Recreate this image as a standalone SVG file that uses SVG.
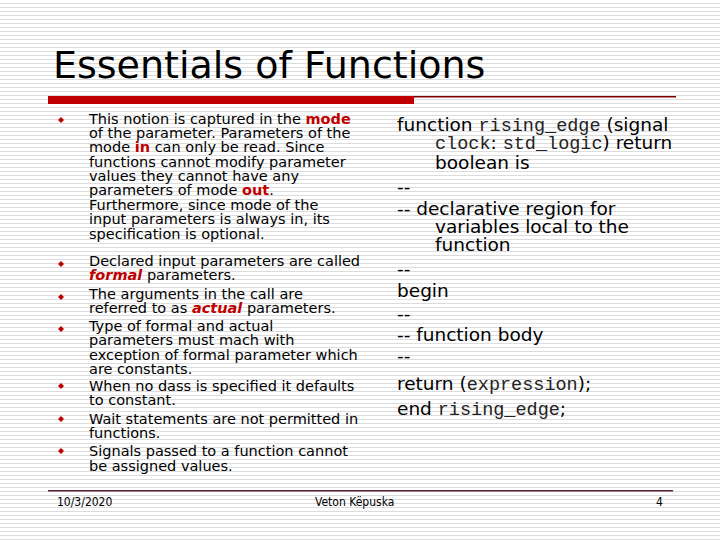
<svg xmlns="http://www.w3.org/2000/svg" width="720" height="540" viewBox="0 0 720 540">
<defs>
<pattern id="stripes" width="4" height="4" patternUnits="userSpaceOnUse"><rect width="4" height="4" fill="#fff"/><rect y="3" width="4" height="1" fill="#dcdcdc"/></pattern>
<style>
.l{font-family:"DejaVu Sans",sans-serif;font-size:14.5px;fill:#000}
.r{font-family:"DejaVu Sans",sans-serif;font-size:18.5px;fill:#000}
.m{font-family:"Liberation Mono",monospace;font-size:18.5px;fill:#222}
.red{fill:#c00000;font-weight:bold}
.redi{fill:#c00000;font-weight:bold;font-style:italic}
.f{font-family:"DejaVu Sans Condensed","DejaVu Sans",sans-serif;font-size:12px}
</style>
</defs>
<rect width="720" height="540" fill="url(#stripes)"/>
<text x="53" y="78" font-family="DejaVu Sans,sans-serif" font-size="38">Essentials of Functions</text>
<rect x="48" y="96" width="366" height="8" fill="#c00000"/>
<rect x="414" y="96" width="262" height="1.5" fill="#800000"/>
<g fill="#c00000">
<path d="M58 120l3-3 3 3-3 3z"/><path d="M58 264l3-3 3 3-3 3z"/><path d="M58 297l3-3 3 3-3 3z"/><path d="M58 329l3-3 3 3-3 3z"/><path d="M58 386l3-3 3 3-3 3z"/><path d="M58 419l3-3 3 3-3 3z"/><path d="M58 451l3-3 3 3-3 3z"/>
</g>
<g id="left" class="l">
<text x="89" y="124">This notion is captured in the <tspan class="red">mode</tspan></text>
<text x="89" y="138">of the parameter. Parameters of the</text>
<text x="89" y="152">mode <tspan class="red">in</tspan> can only be read. Since</text>
<text x="89" y="167">functions cannot modify parameter</text>
<text x="89" y="181">values they cannot have any</text>
<text x="89" y="195">parameters of mode <tspan class="red">out</tspan>.</text>
<text x="89" y="210">Furthermore, since mode of the</text>
<text x="89" y="224">input parameters is always in, its</text>
<text x="89" y="239">specification is optional.</text>
<text x="89" y="266">Declared input parameters are called</text>
<text x="89" y="280"><tspan class="redi">formal</tspan> parameters.</text>
<text x="89" y="299">The arguments in the call are</text>
<text x="89" y="313">referred to as <tspan class="redi">actual</tspan> parameters.</text>
<text x="89" y="331">Type of formal and actual</text>
<text x="89" y="345">parameters must mach with</text>
<text x="89" y="360">exception of formal parameter which</text>
<text x="89" y="374">are constants.</text>
<text x="89" y="391">When no dass is specified it defaults</text>
<text x="89" y="405">to constant.</text>
<text x="89" y="424">Wait statements are not permitted in</text>
<text x="89" y="438">functions.</text>
<text x="89" y="456">Signals passed to a function cannot</text>
<text x="89" y="471">be assigned values.</text>
</g>
<g id="right" class="r">
<text x="397" y="131">function <tspan class="m">rising_edge</tspan> (signal</text>
<text x="435" y="149"><tspan class="m">clock</tspan>: <tspan class="m">std_logic</tspan>) return</text>
<text x="435" y="169">boolean is</text>
<text x="397" y="193">--</text>
<text x="397" y="215">-- declarative region for</text>
<text x="435" y="233">variables local to the</text>
<text x="435" y="251">function</text>
<text x="397" y="275">--</text>
<text x="397" y="297">begin</text>
<text x="397" y="320">--</text>
<text x="397" y="341">-- function body</text>
<text x="397" y="362">--</text>
<text x="397" y="390">return (<tspan class="m">expression</tspan>);</text>
<text x="397" y="415">end <tspan class="m">rising_edge</tspan>;</text>
</g>
<rect x="48" y="490" width="625" height="1.5" fill="#602030"/>
<g class="f">
<text x="57" y="506">10/3/2020</text>
<text x="315" y="506">Veton Këpuska</text>
<text x="656" y="506">4</text>
</g>
</svg>
